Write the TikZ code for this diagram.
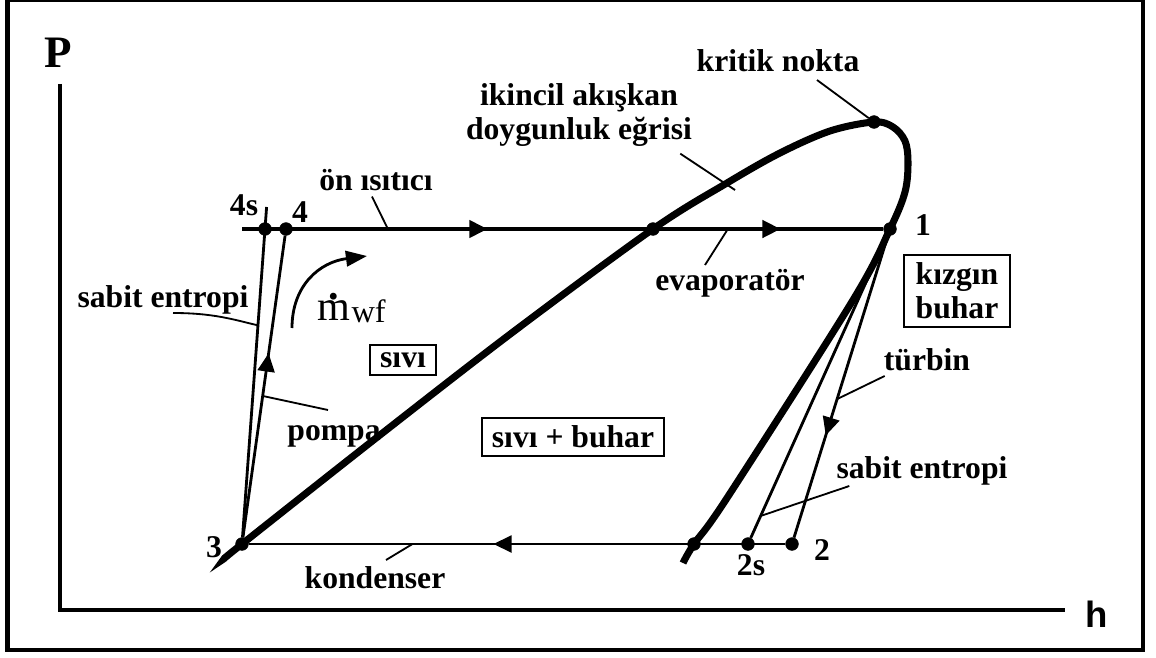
\documentclass[tikz,border=0pt]{standalone}
\usepackage{fontspec}
\setmainfont{Liberation Serif}
\newfontfamily\eksenfont{Liberation Sans}
\usetikzlibrary{calc, arrows.meta, decorations.markings}
\newcommand{\nokta}{
coordinate[draw, fill, shape=circle, inner sep=3.2pt]
}
\tikzset{
  yazi/.style={font=\fontsize{22.5}{24}\selectfont\bfseries, inner sep=0pt},
  kutu/.style={yazi, draw, line width=1.4pt, inner xsep=7pt, inner ysep=5.5pt, align=center},
  doyma/.style={line width=5pt},
  cevrim/.style={line width=2pt},
  isitma/.style={line width=3.2pt},
  kilavuz/.style={line width=1.3pt},
  eksen/.style={line width=2.2pt},
  ucok/.style={-{Triangle[length=15pt, width=11pt]}},
  ortaok/.style={postaction={decorate, decoration={markings,
      mark=at position #1 with {\arrow{Triangle[length=13pt, width=12pt]}}}}}
}

\begin{document}
\begin{tikzpicture}[x=0.025cm, y=-0.025cm]
\useasboundingbox (0,0) rectangle (1156,657);
\draw[line width=3pt] (7.5,0) rectangle (1143,650);
% eksenler
\coordinate (Pust) at (60,84);
\coordinate (orijin) at (60,610);
\coordinate (hsag) at (1065,610);
\draw[eksen] (Pust) -- (orijin) -- (hsag);
\node[font=\fontsize{32}{32}\selectfont\bfseries, inner sep=0pt, anchor=base] (P) at (58,68) {P};
\node[font=\eksenfont\fontsize{26}{26}\selectfont\bfseries, inner sep=0pt, anchor=base] (h) at (1097,627) {h};

% durumlar
\path (242,544) \nokta (3);
\path (265,229) \nokta (4s);
\path (286,229) \nokta (4);
\path (653,229) \nokta (k1);
\path (890,229) \nokta (1);
\path (874,122) \nokta (kn);
\path (694,544) \nokta (k2);
\path (748,544) \nokta (2s);
\path (792,544) \nokta (2);
\coordinate (sol) at (242,229);
\coordinate (4sust) at (266.6,207);
\coordinate (egri) at (735,190);

% doymus egri
\draw[doyma] plot[smooth, tension=0.55] coordinates {(225,558) (3.center) (380,435)
  (513,332) (k1.center) (727,183) (780,153) (830,131) (kn.center) (893,127)
  (905,141) (908,162) (905,192) (1.center) (853,300) (727,498) (k2.center) (683,563)};

% cevrim
\draw[isitma, ortaok=0.383, ortaok=0.84] (sol) -- (1);
\draw[cevrim] (3) -- (4sust);
\draw[cevrim, ortaok=0.61] (3) -- (4);
\draw[cevrim] (1) -- (2s);
\draw[cevrim, ortaok=0.662] (1) -- (2);
\draw[cevrim, ortaok=0.544] (2) -- (3);

% etiketler
\node[yazi, anchor=base] (onisitici) at (376,190) {ön ısıtıcı};
\node[yazi, align=center] (ikincil) at (579,115) {ikincil akışkan\\doygunluk eğrisi};
\node[yazi, anchor=base] (kritik) at (778,72) {kritik nokta};
\node[yazi, anchor=base] (evap) at (730,290) {evaporatör};
\node[yazi, anchor=base] (bir) at (923,235) {1};
\node[kutu, inner xsep=8.5pt] (kizgin) at (957,291) {kızgın\\buhar};
\node[yazi, anchor=base] (turbin) at (927,370) {türbin};
\node[yazi, anchor=base] (sabitsag) at (922,478) {sabit entropi};
\node[yazi, anchor=base] (iki) at (822,560) {2};
\node[yazi, anchor=base] (ikis) at (751,575) {2s};
\node[yazi, anchor=base] (kondenser) at (375,588) {kondenser};
\node[yazi, anchor=base] (uc) at (214,557) {3};
\node[yazi, anchor=base] (pompa) at (334,440) {pompa};
\node[kutu] (sivi) at (403,360) {sıvı};
\node[kutu] (karisim) at (573,437) {sıvı + buhar};
\node[yazi, anchor=base] (sabitsol) at (163,307) {sabit entropi};
\node[yazi, anchor=base] (dortsyazi) at (244,215) {4s};
\node[yazi, anchor=base] (dortyazi) at (300,222) {4};
\node[inner sep=0pt, anchor=base west] (mdot) at (317,320)
  {\fontsize{30}{30}\selectfont\rlap{\hspace{0.27em}\raisebox{0.48em}{\textbf{.}}}m\hspace{1pt}\raisebox{-2pt}{\fontsize{23}{23}\selectfont wf}};

% kilavuz cizgileri
\draw[kilavuz] ($(onisitici.south)+(-4,6)$) -- ($(sol)!0.355!(k1)$);
\draw[kilavuz] ($(ikincil.south east)+(-12,7)$) -- (egri);
\draw[kilavuz] ($(kritik.base)+(39,8)$) -- (kn);
\draw[kilavuz] ($(evap.base)+(-25,-25)$) -- ($(k1)!0.316!(1)$);
\draw[kilavuz] ($(turbin.base west)+(1,6)$) -- ($(1)!0.54!(2)$);
\draw[kilavuz] ($(sabitsag.base west)+(13,8)$) -- ($(1)!0.911!(2s)$);
\draw[kilavuz] ($(kondenser.base)+(11,-28)$) -- ($(3)!0.31!(2)$);
\draw[kilavuz] ($(pompa.base)+(-6,-30)$) -- ($(3)!0.47!(4)$);
\draw[kilavuz] ($(sabitsol.base)+(10,6)$) .. controls +(40,0) and +(-25,-6) .. ($(3)!0.694!(4s)$);

% debi oku
\coordinate (mbas) at (292,328);
\coordinate (muc) at (367,256);
\draw[cevrim, ucok] (mbas) .. controls (292,285) and (320,262) .. (muc);
\end{tikzpicture}
\end{document}
